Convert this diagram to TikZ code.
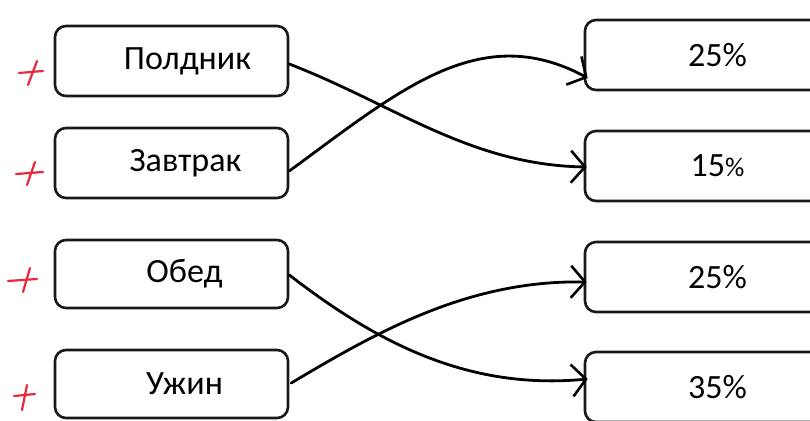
\documentclass[tikz,border=0pt]{standalone}
\usepackage{fontspec}
\setmainfont{Carlito}
\usetikzlibrary{arrows.meta}
\tikzset{
  box/.style={draw=black!90, line width=2.6pt, rounded corners=11pt, minimum height=70pt, inner sep=0pt},
  lbox/.style={box, minimum width=233pt},
  rbox/.style={box, minimum width=265pt, font=\fontsize{34}{34}\selectfont},
  ltext/.style={font=\fontsize{34}{34}\selectfont, inner sep=0pt},
  link/.style={line width=2.8pt, line cap=round, line join=round, -{Straight Barb[length=14pt, width=32pt, line width=2.6pt]}},
  plus/.style={draw={rgb,255:red,232;green,40;blue,60}, line width=2.2pt, line cap=round}
}
\begin{document}
\begin{tikzpicture}[x=1pt, y=-1pt]
\useasboundingbox (0,0) rectangle (810,420);
\clip (0,0) rectangle (810,420);
% left boxes
\node[lbox] (L1) at (171.5,61) {};
\node[lbox] (L2) at (171.5,163) {};
\node[lbox, minimum height=68pt] (L3) at (171.5,274) {};
\node[lbox, minimum height=68pt] (L4) at (171.5,384) {};
\node[ltext] (T1) at ([xshift=16pt]L1.center) {Полдник};
\node[ltext] (T2) at ([xshift=14pt]L2.center) {Завтрак};
\node[ltext] (T3) at ([xshift=13pt]L3.center) {Обед};
\node[ltext] (T4) at ([xshift=13pt]L4.center) {Ужин};
% right boxes
\node[rbox] (R1) at (717.5,55) {25\%};
\node[rbox] (R2) at (717.5,166) {15{\fontsize{27}{27}\selectfont\%}};
\node[rbox] (R3) at (717.5,277) {25\%};
\node[rbox] (R4) at (717.5,387) {35\%};
% connectors
\draw[link] ([yshift=-3pt]L1.east) .. controls (395,105) and (470,165) .. ([yshift=-1pt,xshift=3pt]R2.west);
\draw[link] ([yshift=-8pt]L2.east) .. controls (400,90) and (480,20) .. ([yshift=-23pt,xshift=4pt]R1.west);
\draw[link] ([yshift=-1pt]L3.east) .. controls (380,345) and (470,390) .. ([yshift=8pt,xshift=4pt]R4.west);
\draw[link] ([yshift=1pt,xshift=2pt]L4.east) .. controls (380,330) and (470,280) .. ([yshift=-5pt,xshift=3pt]R3.west);
% red plus marks
\draw[plus] (19,73) -- (43,71) (37,61) -- (28,85);
\draw[plus] (16,174) -- (43,172) (35,162) -- (27,185);
\draw[plus] (8,281) -- (37,279) (30,268) -- (23,292);
\draw[plus] (14,396) -- (35,394) (27,385) -- (22,410);
\end{tikzpicture}
\end{document}
